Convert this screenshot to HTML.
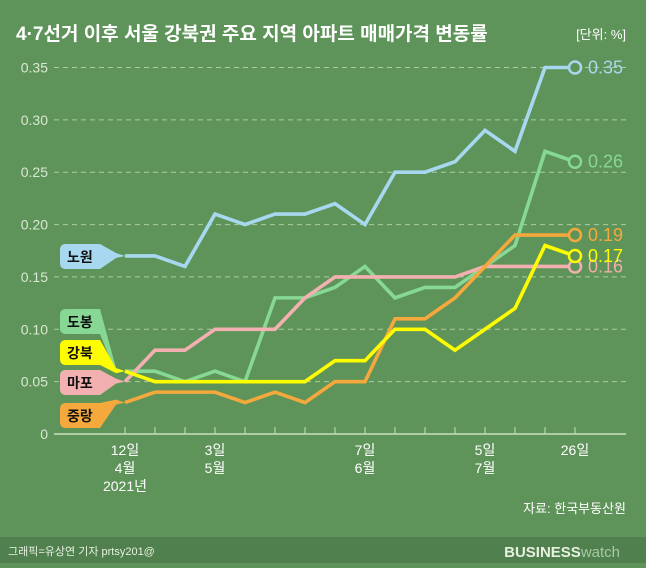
<!DOCTYPE html>
<html><head><meta charset="utf-8"><style>
body{margin:0;width:646px;height:563px;overflow:hidden;background:#5e9459;font-family:"Liberation Sans","Noto Sans CJK KR",sans-serif}
</style></head><body>
<svg id="chart" width="646" height="563" viewBox="0 0 646 563" xmlns="http://www.w3.org/2000/svg" font-family="Liberation Sans, Noto Sans CJK KR, sans-serif">
<rect x="0" y="0" width="646" height="563" fill="#5e9459"/>
<rect x="0" y="537" width="646" height="26" fill="#4f804d"/>
<text x="16" y="40" font-size="19" font-weight="bold" fill="#fff">4·7선거 이후 서울 강북권 주요 지역 아파트 매매가격 변동률</text>
<text x="626" y="39" font-size="13" fill="#fff" text-anchor="end">[단위: %]</text>
<text x="626" y="513" font-size="13" fill="#fff" text-anchor="end">자료: 한국부동산원</text>
<text x="8" y="555" font-size="11" fill="#e8f0e0">그래픽=유상연 기자 prtsy201@</text>
<text x="620" y="557" font-size="15" font-weight="bold" fill="#e8f0e0" text-anchor="end">BUSINESS<tspan font-weight="normal" fill="#a9c9a4">watch</tspan></text>
<g id="grid"></g><g id="axis"></g><g id="lines"></g><g id="legend"></g>
</svg>
<script>
const yTicks=[0,0.05,0.10,0.15,0.20,0.25,0.30,0.35];
const yTickLabels=["0","0.05","0.10","0.15","0.20","0.25","0.30","0.35"];
const xLabelIdx=[0,3,8,12,15];
const xLabels=[["12일","4월","2021년"],["3일","5월"],["7일","6월"],["5일","7월"],["26일"]];
const seriesNames=["노원","도봉","마포","중랑","강북"];
const nowon=[0.17,0.17,0.16,0.21,0.20,0.21,0.21,0.22,0.20,0.25,0.25,0.26,0.29,0.27,0.35,0.35];
const dobong=[0.06,0.06,0.05,0.06,0.05,0.13,0.13,0.14,0.16,0.13,0.14,0.14,0.16,0.18,0.27,0.26];
const mapo=[0.05,0.08,0.08,0.10,0.10,0.10,0.13,0.15,0.15,0.15,0.15,0.15,0.16,0.16,0.16,0.16];
const jungnang=[0.03,0.04,0.04,0.04,0.03,0.04,0.03,0.05,0.05,0.11,0.11,0.13,0.16,0.19,0.19,0.19];
const gangbuk=[0.06,0.05,0.05,0.05,0.05,0.05,0.05,0.07,0.07,0.10,0.10,0.08,0.10,0.12,0.18,0.17];
const NS="http://www.w3.org/2000/svg";
const X=i=>125+i*30;
const Y=v=>434-v/0.35*366.5;
function mk(t,a,p){const e=document.createElementNS(NS,t);for(const k in a)e.setAttribute(k,a[k]);p.appendChild(e);return e;}
const grid=document.getElementById('grid'),axis=document.getElementById('axis'),lines=document.getElementById('lines'),legend=document.getElementById('legend');
yTicks.forEach((v,i)=>{
  if(v>0){const l=mk('line',{x1:54,x2:626,y1:Y(v),y2:Y(v),stroke:'#a9cca3','stroke-width':1,'stroke-dasharray':'5,4'},grid);
  
  }
  const t=mk('text',{x:48,y:Y(v)+5,'font-size':14,fill:'#d9e8d2','text-anchor':'end'},axis);t.textContent=yTickLabels[i];
  
  
});
const base=mk('line',{x1:54,x2:626,y1:434,y2:434,stroke:'#c8e0c0','stroke-width':1.5},axis);


for(let i=0;i<nowon.length;i++){const tk=mk('line',{x1:X(i),x2:X(i),y1:427,y2:434,stroke:'#c8e0c0','stroke-width':1},axis);
  
  }
xLabelIdx.forEach((idx,j)=>{xLabels[j].forEach((s,k)=>{const t=mk('text',{x:X(idx),y:455+k*18,'font-size':14,fill:'#fff','text-anchor':'middle'},axis);t.textContent=s;
  
  });});
const data=[nowon,dobong,mapo,jungnang,gangbuk];
const colors=['#a8d8f0','#86d894','#f2b0b0','#f5a83c','#fdfc00'];
const valueColors=['#a8d8f0','#86d894','#f0b0a8','#f5a83c','#fdfc00'];
data.forEach((d,s)=>{
  const p=mk('polyline',{points:d.map((v,i)=>X(i)+','+Y(v)).join(' '),fill:'none',stroke:colors[s],'stroke-width':3.6,'stroke-linejoin':'miter'},lines);
  
  
  const n=d.length-1;
  const c=mk('circle',{cx:X(n),cy:Y(d[n]),r:6,fill:'#5e9459',stroke:colors[s],'stroke-width':2.5},lines);
  
  
  const t=mk('text',{x:X(n)+13,y:Y(d[n])+6,'font-size':18,fill:valueColors[s]},lines);t.textContent=d[n].toFixed(2);
  
  
});
const tags=[[0,244],[1,309],[4,340],[2,370],[3,403]];
tags.forEach(([s,top])=>{
  const ty=Y(data[s][0]);
  const d=`M66,${top} L100,${top} L116,${ty-3} L125,${ty} L116,${ty+2} L100,${top+25} L66,${top+25} Q60,${top+25} 60,${top+19} L60,${top+6} Q60,${top} 66,${top} Z`;
  const p=mk('path',{d:d,fill:colors[s]},legend);
  
  
  const t=mk('text',{x:67,y:top+18,'font-size':14,'font-weight':'bold',fill:'#111'},legend);t.textContent=seriesNames[s];
  
  
});
</script>
</body></html>
